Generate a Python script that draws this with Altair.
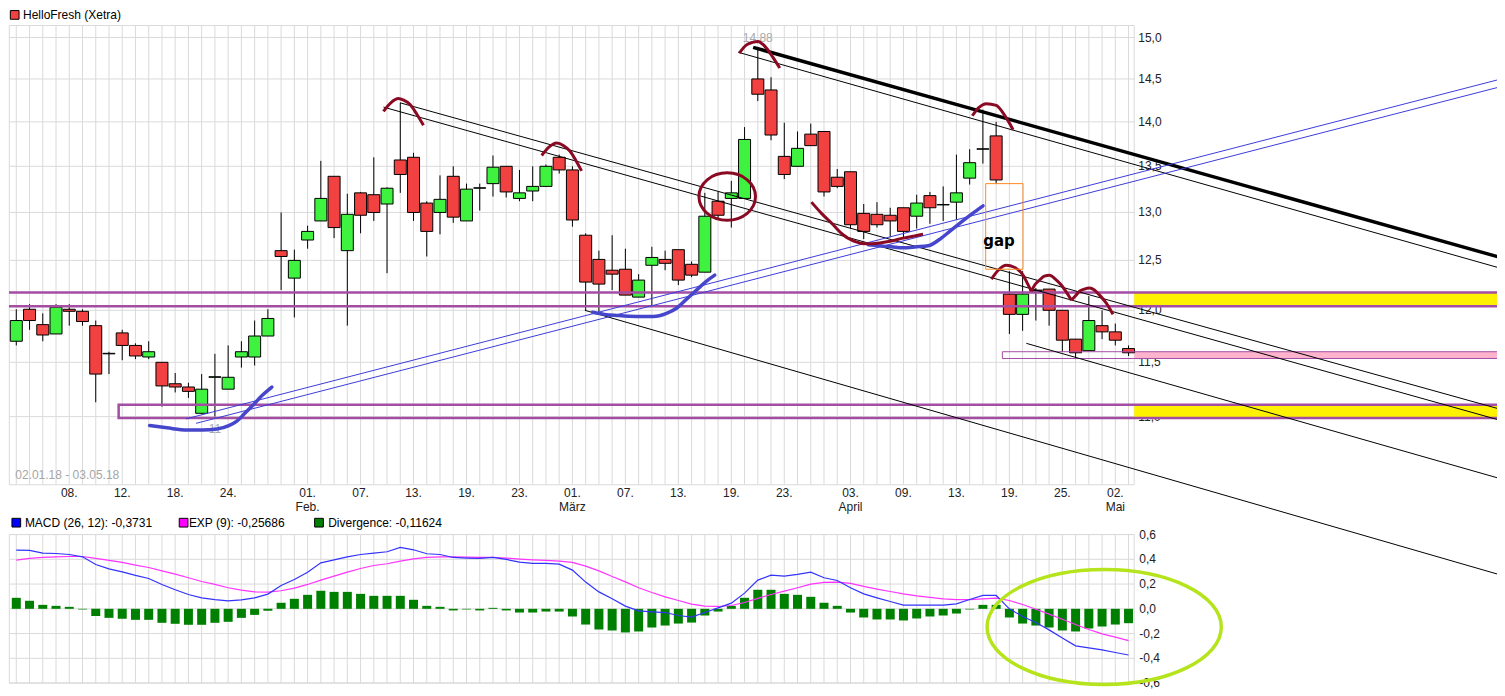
import altair as alt
import pandas as pd

FONT = "Liberation Sans"
RED = "#f24141"
GREEN = "#3ff23f"
GRID = "#dadada"
PURPLE = "#a34da3"
MAROON = "#8b0a23"
BLUECURVE = "#4646cc"
BLUELINE = "#3c3cdc"
LABEL = "#222222"

# ---------------- price data: trading day index 0 = 02.01.18 ... 84 = 03.05.18 ----------------
opens = [11.70, 12.01, 11.86, 11.77, 12.01, 11.99, 11.85, 11.58, 11.78, 11.66,
         11.55, 11.50, 11.30, 11.27, 11.03, 11.36, 11.25, 11.55, 11.55, 11.75,
         12.60, 12.32, 12.71, 12.91, 13.39, 12.60, 13.21, 13.19, 13.09, 13.57,
         13.60, 13.10, 13.00, 13.39, 12.91, 13.26, 13.31, 13.50, 13.15, 13.23,
         13.28, 13.60, 13.46, 12.76, 12.51, 12.40, 12.41, 12.13, 12.45, 12.51,
         12.61, 12.46, 12.38, 13.12, 13.15, 13.15, 14.50, 14.37, 13.61, 13.50,
         13.86, 13.89, 13.38, 13.44, 12.99, 12.98, 12.97, 13.05, 12.96, 13.18,
         13.08, 13.11, 13.37, 13.69, 13.84, 12.16, 11.96, 12.20, 12.21, 12.00,
         11.72, 11.61, 11.85, 11.79, 11.63]
highs = [12.01, 12.06, 11.97, 12.06, 12.06, 12.01, 11.90, 11.60, 11.81, 11.68,
         11.70, 11.50, 11.40, 11.31, 11.39, 11.58, 11.66, 11.70, 11.90, 12.01,
         13.00, 12.61, 12.86, 13.56, 13.39, 13.20, 13.22, 13.60, 13.27, 14.22,
         13.65, 13.12, 13.40, 13.50, 13.31, 13.31, 13.62, 13.50, 13.46, 13.50,
         13.52, 13.63, 13.50, 12.78, 12.60, 12.76, 12.62, 12.36, 12.64, 12.60,
         12.61, 12.49, 13.21, 13.22, 13.34, 13.94, 14.88, 14.52, 13.99, 13.89,
         13.98, 13.89, 13.47, 13.44, 13.09, 13.11, 13.05, 13.05, 13.19, 13.22,
         13.28, 13.63, 13.69, 14.14, 14.00, 12.39, 12.39, 12.22, 12.21, 12.00,
         11.72, 12.14, 12.00, 11.87, 11.66]
lows = [11.66, 11.81, 11.70, 11.77, 11.85, 11.85, 11.13, 11.39, 11.52, 11.53,
        11.53, 11.09, 11.22, 11.17, 11.03, 11.00, 11.25, 11.45, 11.47, 11.75,
        12.20, 11.93, 12.62, 12.91, 12.73, 11.85, 12.78, 12.91, 12.37, 13.21,
        12.91, 12.54, 12.77, 12.89, 12.91, 13.02, 13.17, 13.16, 13.12, 13.12,
        13.28, 13.42, 12.85, 12.00, 11.98, 12.20, 12.15, 12.13, 12.05, 12.40,
        12.25, 12.33, 12.38, 12.92, 12.84, 13.15, 14.24, 13.79, 13.36, 13.50,
        13.73, 13.17, 13.26, 12.83, 12.72, 12.84, 12.74, 12.74, 12.83, 12.88,
        12.91, 12.92, 13.30, 13.53, 13.31, 11.77, 11.80, 11.90, 11.85, 11.60,
        11.53, 11.61, 11.72, 11.66, 11.56]
closes = [11.90, 11.90, 11.76, 12.03, 11.99, 11.89, 11.39, 11.585, 11.66, 11.56,
          11.60, 11.28, 11.27, 11.23, 11.25, 11.365, 11.36, 11.60, 11.75, 11.92,
          12.54, 12.50, 12.80, 13.15, 12.84, 12.98, 12.97, 13.00, 13.26, 13.41,
          13.00, 12.80, 13.14, 12.95, 13.25, 13.265, 13.49, 13.22, 13.21, 13.28,
          13.50, 13.46, 12.92, 12.28, 12.26, 12.36, 12.15, 12.30, 12.53, 12.47,
          12.30, 12.35, 12.96, 12.97, 13.21, 13.80, 14.32, 13.85, 13.41, 13.70,
          13.73, 13.22, 13.28, 12.87, 12.80, 12.87, 12.91, 12.80, 13.10, 13.05,
          13.085, 13.21, 13.54, 13.695, 13.35, 11.96, 12.16, 12.19, 12.00, 11.71,
          11.59, 11.90, 11.79, 11.71, 11.59]

# ---------------- MACD panel ----------------
macd = [0.474, 0.472, 0.450, 0.447, 0.439, 0.420, 0.358, 0.323, 0.299, 0.270,
        0.245, 0.197, 0.154, 0.116, 0.089, 0.075, 0.065, 0.073, 0.089, 0.119,
        0.189, 0.237, 0.296, 0.372, 0.396, 0.420, 0.439, 0.450, 0.461, 0.496,
        0.477, 0.445, 0.439, 0.415, 0.410, 0.407, 0.415, 0.399, 0.377, 0.367,
        0.367, 0.361, 0.313, 0.216, 0.137, 0.081, 0.022, -0.016, -0.024, -0.030,
        -0.054, -0.067, -0.030, 0.008, 0.046, 0.127, 0.232, 0.272, 0.264, 0.278,
        0.296, 0.251, 0.229, 0.170, 0.121, 0.089, 0.059, 0.030, 0.030, 0.030,
        0.030, 0.040, 0.075, 0.108, 0.108, 0.000, -0.062, -0.111, -0.170, -0.235,
        -0.299, -0.315, -0.332, -0.353, -0.373]
signal = [0.394, 0.407, 0.415, 0.420, 0.423, 0.423, 0.407, 0.391, 0.375, 0.353,
          0.334, 0.307, 0.280, 0.251, 0.221, 0.197, 0.170, 0.151, 0.137, 0.135,
          0.146, 0.167, 0.197, 0.232, 0.264, 0.296, 0.326, 0.350, 0.364, 0.385,
          0.404, 0.415, 0.420, 0.420, 0.418, 0.415, 0.415, 0.410, 0.402, 0.396,
          0.391, 0.385, 0.375, 0.345, 0.307, 0.261, 0.218, 0.170, 0.132, 0.097,
          0.067, 0.038, 0.022, 0.019, 0.027, 0.051, 0.084, 0.116, 0.143, 0.170,
          0.199, 0.213, 0.216, 0.205, 0.181, 0.159, 0.140, 0.121, 0.105, 0.092,
          0.081, 0.075, 0.075, 0.081, 0.086, 0.067, 0.035, -0.003, -0.043, -0.084,
          -0.127, -0.167, -0.202, -0.229, -0.257]
divergence = [0.089, 0.065, 0.032, 0.024, 0.016, -0.005, -0.057, -0.073, -0.081, -0.089,
              -0.089, -0.113, -0.121, -0.129, -0.129, -0.113, -0.105, -0.073, -0.049, -0.016,
              0.049, 0.081, 0.113, 0.146, 0.137, 0.137, 0.121, 0.105, 0.105, 0.105,
              0.073, 0.024, 0.016, -0.013, -0.005, -0.013, 0.008, -0.013, -0.030, -0.030,
              -0.022, -0.022, -0.062, -0.127, -0.167, -0.175, -0.191, -0.183, -0.151, -0.135,
              -0.119, -0.111, -0.054, -0.022, 0.024, 0.089, 0.154, 0.154, 0.121, 0.113,
              0.097, 0.049, 0.024, -0.030, -0.070, -0.086, -0.086, -0.094, -0.078, -0.062,
              -0.054, -0.038, -0.005, 0.032, 0.032, -0.070, -0.119, -0.135, -0.151, -0.175,
              -0.183, -0.159, -0.143, -0.127, -0.116]

# ---------------- tick labels ----------------
tick_idx = [4, 8, 12, 16, 22, 26, 30, 34, 38, 42, 46, 50, 54, 58, 63, 67, 71, 75, 79, 83]
tick_day = ["08.", "12.", "18.", "24.", "01.", "07.", "13.", "19.", "23.", "01.",
            "07.", "13.", "19.", "23.", "03.", "09.", "13.", "19.", "25.", "02."]
month_idx = [22, 42, 63, 83]
month_name = ["Feb.", "März", "April", "Mai"]
price_ticks = [11.0, 11.5, 12.0, 12.5, 13.0, 13.5, 14.0, 14.5, 15.0]
price_labels = ["11,0", "11,5", "12,0", "12,5", "13,0", "13,5", "14,0", "14,5", "15,0"]
macd_ticks = [-0.6, -0.4, -0.2, 0.0, 0.2, 0.4, 0.6]
macd_labels = ["-0,6", "-0,4", "-0,2", "0,0", "0,2", "0,4", "0,6"]

# plot-area edges (day index / price / macd)
area_x = [-0.528, 84.43]
area_p = [10.404, 15.148]
area_m = [-0.6, 0.6]

# ---------------- drawn annotations (day index, price) ----------------
thick_line = [[(55.65, 14.88), (112.88, 12.50)]]
thin_lines = [
    [(54.52, 14.82), (112.88, 12.39)],
    [(28.98, 14.22), (112.88, 11.04)],
    [(27.73, 14.17), (112.88, 10.94)],
    [(42.94, 12.00), (112.88, 9.64)],
    [(76.28, 11.68), (112.88, 10.43)],
]
blue_lines = [
    [(12.81, 10.98), (112.88, 14.53)],
    [(13.58, 10.94), (112.88, 14.44)],
]
blue_curves = [
    [(10.07, 10.92), (11.37, 10.90), (12.88, 10.88), (14.02, 10.88), (15.15, 10.89), (16.05, 10.92),
     (16.66, 10.96), (17.26, 11.03), (17.92, 11.11), (18.54, 11.19), (19.30, 11.27)],
    [(43.52, 11.98), (44.43, 11.96), (45.34, 11.95), (46.85, 11.94), (48.11, 11.94), (49.11, 11.97),
     (49.86, 12.02), (50.62, 12.11), (51.37, 12.20), (52.13, 12.29), (52.75, 12.35)],
    [(64.35, 12.66), (65.09, 12.65), (66.09, 12.64), (66.97, 12.63), (67.98, 12.64), (68.86, 12.65),
     (69.86, 12.73), (70.49, 12.80), (71.75, 12.94), (73.01, 13.07)],
]
maroon_arcs = [
    [(27.73, 14.12), (28.28, 14.22), (28.86, 14.27), (29.26, 14.25), (29.74, 14.20), (30.24, 14.09), (30.75, 13.96)],
    [(39.68, 13.62), (40.20, 13.71), (40.81, 13.76), (41.34, 13.73), (41.81, 13.67), (42.24, 13.57), (42.69, 13.45)],
    [(54.60, 14.81), (55.15, 14.91), (55.60, 14.94), (56.03, 14.95), (56.35, 14.92), (56.66, 14.87),
     (57.18, 14.75), (57.66, 14.63)],
    [(72.20, 14.07), (72.73, 14.17), (73.25, 14.21), (74.01, 14.19), (74.62, 14.08), (75.28, 13.91)],
    [(60.05, 13.11), (60.81, 12.99), (61.69, 12.87), (62.39, 12.77), (63.20, 12.70), (64.20, 12.67),
     (65.21, 12.68), (66.09, 12.70), (66.97, 12.73), (67.75, 12.75), (68.48, 12.77)],
    [(73.64, 12.31), (74.16, 12.40), (74.77, 12.45), (75.37, 12.43), (76.03, 12.35), (76.35, 12.27), (76.66, 12.19)],
    [(76.66, 12.19), (76.96, 12.26), (77.28, 12.30), (77.64, 12.34), (78.04, 12.35), (78.47, 12.31),
     (78.92, 12.25), (79.68, 12.10)],
    [(79.68, 12.10), (79.98, 12.14), (80.30, 12.19), (80.66, 12.21), (81.06, 12.22), (81.42, 12.20),
     (81.81, 12.15), (82.32, 12.07), (82.82, 11.96)],
]
circle_center = (53.69, 13.17)
macd_ellipse_center = (82.16, -0.147)
band_wide = [12.04, 12.175]          # purple double line + yellow label
band_low = [10.987, 11.107, 7.73]    # purple box from day 7.73, yellow label
band_pink = [11.536, 11.60, 74.47]   # thin box from day 74.47, pink label
gap_box = [73.21, 76.03, 12.41, 13.31]

# ---------------- scales ----------------
W, H = 1489, 678
xs = alt.Scale(domain=[-0.5509, 111.826], nice=False, zero=False)
ps = alt.Scale(type="log", domain=[11, 15], range=[406.7, 27.3], nice=False)
ms = alt.Scale(domain=[-0.6, 0.6], range=[673.3, 524.7], nice=False, zero=False)


def X(f):
    return alt.X(f, scale=xs, axis=None)


def PY(f):
    return alt.Y(f, scale=ps, axis=None)


def MY(f):
    return alt.Y(f, scale=ms, axis=None)


def seg_df(segs):
    rows = []
    for s, pts in enumerate(segs):
        for k, (a, b) in enumerate(pts):
            rows.append({"seg": s, "k": k, "x": a, "v": b})
    return pd.DataFrame(rows)


days = list(range(len(opens)))
candles = pd.DataFrame({"i": days, "open": opens, "high": highs, "low": lows, "close": closes})
mac = pd.DataFrame({"i": days, "macd": macd, "signal": signal, "div": divergence})

# ---------------- upper panel ----------------
gv_up = alt.Chart(pd.DataFrame({"i": days, "top": area_p[1], "bot": area_p[0]})).mark_rule(
    color=GRID, strokeWidth=1).encode(x=X("i:Q"), y=PY("top:Q"), y2="bot:Q")
gh_up = alt.Chart(pd.DataFrame({"p": price_ticks, "x0": area_x[0], "x1": area_x[1]})).mark_rule(
    color=GRID, strokeWidth=1).encode(x=X("x0:Q"), x2="x1:Q", y=PY("p:Q"))
frame_up = alt.Chart(pd.DataFrame({"x0": [area_x[0]], "x1": [area_x[1]], "p0": [area_p[0]], "p1": [area_p[1]]})).mark_rect(
    fillOpacity=0, stroke=GRID, strokeWidth=1).encode(x=X("x0:Q"), x2="x1:Q", y=PY("p0:Q"), y2="p1:Q")

# axis tick labels (through the scales)
p_lab = alt.Chart(pd.DataFrame({"p": price_ticks, "t": price_labels})).mark_text(
    align="left", baseline="middle", font=FONT, fontSize=12, color=LABEL).encode(
    x=alt.value(1130), y=PY("p:Q"), text="t:N")
d_lab = alt.Chart(pd.DataFrame({"i": tick_idx, "t": tick_day})).mark_text(
    align="center", baseline="alphabetic", font=FONT, fontSize=12, color=LABEL).encode(
    x=X("i:Q"), y=alt.value(487.3), text="t:N")
m_lab = alt.Chart(pd.DataFrame({"i": month_idx, "t": month_name})).mark_text(
    align="center", baseline="alphabetic", font=FONT, fontSize=12, color=LABEL).encode(
    x=X("i:Q"), y=alt.value(500.7), text="t:N")

fills = pd.DataFrame({"x0": [area_x[1]] * 3, "x1": [115] * 3,
                      "p0": [band_wide[0], band_low[0], band_pink[0]],
                      "p1": [band_wide[1], band_low[1], band_pink[1]],
                      "c": ["#fff200", "#fff200", "#ffb3cc"]})
fill_layer = alt.Chart(fills).mark_rect(clip=True).encode(
    x=X("x0:Q"), x2="x1:Q", y=PY("p0:Q"), y2="p1:Q", color=alt.Color("c:N", scale=None))

wicks = alt.Chart(candles).mark_rule(color="black", strokeWidth=1).encode(
    x=X("i:Q"), y=PY("low:Q"), y2="high:Q")
bodies = alt.Chart(candles).transform_calculate(
    x0="datum.i - 0.453", x1="datum.i + 0.453").mark_rect(stroke="black", strokeWidth=1).encode(
    x=X("x0:Q"), x2="x1:Q", y=PY("open:Q"), y2="close:Q",
    color=alt.condition("datum.close >= datum.open", alt.value(GREEN), alt.value(RED)))

band1 = alt.Chart(pd.DataFrame({"p": band_wide, "x0": -3, "x1": 115})).mark_rule(
    color=PURPLE, strokeWidth=2.5, clip=True).encode(x=X("x0:Q"), x2="x1:Q", y=PY("p:Q"))
band2 = alt.Chart(pd.DataFrame({"x0": [band_low[2]], "x1": [116], "p0": [band_low[0]], "p1": [band_low[1]]})).mark_rect(
    fillOpacity=0, stroke=PURPLE, strokeWidth=2.5, clip=True).encode(x=X("x0:Q"), x2="x1:Q", y=PY("p0:Q"), y2="p1:Q")
band3 = alt.Chart(pd.DataFrame({"x0": [band_pink[2]], "x1": [116], "p0": [band_pink[0]], "p1": [band_pink[1]]})).mark_rect(
    fillOpacity=0, stroke=PURPLE, strokeWidth=1, clip=True).encode(x=X("x0:Q"), x2="x1:Q", y=PY("p0:Q"), y2="p1:Q")

thin_l = alt.Chart(seg_df(thin_lines)).mark_line(color="black", strokeWidth=1, clip=True).encode(
    x=X("x:Q"), y=PY("v:Q"), detail="seg:N", order="k:Q")
thick_l = alt.Chart(seg_df(thick_line)).mark_line(color="black", strokeWidth=3.5, clip=True).encode(
    x=X("x:Q"), y=PY("v:Q"), detail="seg:N", order="k:Q")
blue_l = alt.Chart(seg_df(blue_lines)).mark_line(color=BLUELINE, strokeWidth=1, clip=True).encode(
    x=X("x:Q"), y=PY("v:Q"), detail="seg:N", order="k:Q")
blue_c = alt.Chart(seg_df(blue_curves)).mark_line(color=BLUECURVE, strokeWidth=3.5, interpolate="monotone",
                                                  strokeCap="round", clip=True).encode(
    x=X("x:Q"), y=PY("v:Q"), detail="seg:N", order="k:Q")
maroon_c = alt.Chart(seg_df(maroon_arcs)).mark_line(color=MAROON, strokeWidth=3, interpolate="monotone",
                                                    clip=True).encode(
    x=X("x:Q"), y=PY("v:Q"), detail="seg:N", order="k:Q")
circle = alt.Chart(pd.DataFrame({"x": [circle_center[0]], "v": [circle_center[1]]})).mark_point(
    shape="M-1,0A1,0.8375,0,1,1,1,0A1,0.8375,0,1,1,-1,0Z", size=3204, filled=False,
    color=MAROON, strokeWidth=3, opacity=1, clip=True).encode(x=X("x:Q"), y=PY("v:Q"))
gap_rect = alt.Chart(pd.DataFrame({"x0": [gap_box[0]], "x1": [gap_box[1]], "p0": [gap_box[2]], "p1": [gap_box[3]]})).mark_rect(
    fillOpacity=0, stroke="#ff8a1f", strokeWidth=1).encode(x=X("x0:Q"), x2="x1:Q", y=PY("p0:Q"), y2="p1:Q")
gap_txt = alt.Chart(pd.DataFrame({"x": [73.03], "v": [12.65], "t": ["gap"]})).mark_text(
    font="DejaVu Sans", fontSize=15, fontWeight="bold", align="left", baseline="alphabetic", color="black").encode(
    x=X("x:Q"), y=PY("v:Q"), text="t:N")
extreme_txt = alt.Chart(pd.DataFrame({"x": [56, 15], "v": [14.95, 10.85], "t": ["14,88", "11"]})).mark_text(
    font=FONT, fontSize=12, align="center", baseline="alphabetic", color="#aaaaaa").encode(
    x=X("x:Q"), y=PY("v:Q"), text="t:N")

upper = alt.layer(gv_up, gh_up, frame_up, p_lab, d_lab, m_lab, fill_layer, wicks, bodies, band1, band2, band3,
                  thin_l, thick_l, blue_l, extreme_txt, blue_c, maroon_c, circle, gap_rect, gap_txt)

# ---------------- lower panel ----------------
gv_lo = alt.Chart(pd.DataFrame({"i": days, "top": area_m[1], "bot": area_m[0]})).mark_rule(
    color=GRID, strokeWidth=1).encode(x=X("i:Q"), y=MY("top:Q"), y2="bot:Q")
gh_lo = alt.Chart(pd.DataFrame({"m": macd_ticks, "x0": area_x[0], "x1": area_x[1]})).mark_rule(
    color=GRID, strokeWidth=1).encode(x=X("x0:Q"), x2="x1:Q", y=MY("m:Q"))
frame_lo = alt.Chart(pd.DataFrame({"x0": [area_x[0]], "x1": [area_x[1]], "m0": [area_m[0]], "m1": [area_m[1]]})).mark_rect(
    fillOpacity=0, stroke=GRID, strokeWidth=1).encode(x=X("x0:Q"), x2="x1:Q", y=MY("m0:Q"), y2="m1:Q")
mm_lab = alt.Chart(pd.DataFrame({"m": macd_ticks, "t": macd_labels})).mark_text(
    align="left", baseline="middle", font=FONT, fontSize=12, color=LABEL).encode(
    x=alt.value(1131), y=MY("m:Q"), text="t:N")
bars = alt.Chart(mac).transform_calculate(
    x0="datum.i - 0.34", x1="datum.i + 0.34", zero="0").mark_rect(color="#008000").encode(
    x=X("x0:Q"), x2="x1:Q", y=MY("div:Q"), y2="zero:Q")
sig_line = alt.Chart(mac).mark_line(color="#ff33ff", strokeWidth=1.2).encode(x=X("i:Q"), y=MY("signal:Q"))
macd_line = alt.Chart(mac).mark_line(color="#3333ff", strokeWidth=1.2).encode(x=X("i:Q"), y=MY("macd:Q"))
ellipse = alt.Chart(pd.DataFrame({"x": [macd_ellipse_center[0]], "m": [macd_ellipse_center[1]]})).mark_point(
    shape="M-1,0A1,0.4906,0,1,1,1,0A1,0.4906,0,1,1,-1,0Z", size=54943, filled=False,
    color="#b5e41c", strokeWidth=3.5, opacity=1, clip=True).encode(x=X("x:Q"), y=MY("m:Q"))

lower = alt.layer(gv_lo, gh_lo, frame_lo, mm_lab, bars, sig_line, macd_line, ellipse)

# ---------------- header texts / legends ----------------
one = pd.DataFrame({"a": [1]})


def sq(x, y, c):
    return alt.Chart(one).mark_square(size=76, color=c, stroke="black", strokeWidth=1, opacity=1,
                                      filled=True).encode(x=alt.value(x), y=alt.value(y))


def tx(x, y, t, c="black"):
    return alt.Chart(one).mark_text(text=t, align="left", baseline="alphabetic", font=FONT, fontSize=12,
                                    color=c).encode(x=alt.value(x), y=alt.value(y))


deco = alt.layer(
    sq(5.7, 4.7, RED), tx(14, 8.7, "HelloFresh (Xetra)"),
    tx(6.3, 469, "02.01.18 - 03.05.18", "#a6a6a6"),
    sq(7.3, 512.8, "#0000ff"), tx(15.9, 517, "MACD (26, 12): -0,3731"),
    sq(174.7, 512.8, "#ff00ff"), tx(180, 517, "EXP (9): -0,25686"),
    sq(310.2, 512.8, "#008000"), tx(319.4, 517, "Divergence: -0,11624"),
)

chart = alt.layer(upper, lower, deco).resolve_scale(y="independent").properties(
    width=W, height=H, padding=0).configure_view(strokeWidth=0)

chart.save("out.html", embed_options={"renderer": "svg", "actions": False})
